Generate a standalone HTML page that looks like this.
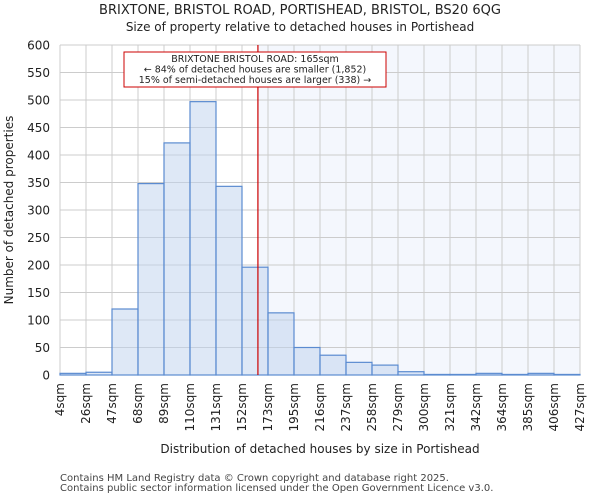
<!DOCTYPE html>
<html><head><meta charset="utf-8"><style>
body{margin:0;background:#fff;font-family:"DejaVu Sans","Liberation Sans",sans-serif;}
</style></head><body>
<svg id="chart" width="600" height="500" xmlns="http://www.w3.org/2000/svg" font-family="DejaVu Sans, Liberation Sans, sans-serif">
<text x="300" y="14" text-anchor="middle" font-size="13" fill="#222">BRIXTONE, BRISTOL ROAD, PORTISHEAD, BRISTOL, BS20 6QG</text>
<text x="300" y="31" text-anchor="middle" font-size="12" fill="#222">Size of property relative to detached houses in Portishead</text>
<g id="plot"></g>
<text x="320" y="453" text-anchor="middle" font-size="12" fill="#222">Distribution of detached houses by size in Portishead</text>
<text transform="translate(13,210) rotate(-90)" text-anchor="middle" font-size="12" fill="#222">Number of detached properties</text>
<text x="60" y="481" font-size="10" fill="#444">Contains HM Land Registry data © Crown copyright and database right 2025.</text>
<text x="60" y="491" font-size="10" fill="#444">Contains public sector information licensed under the Open Government Licence v3.0.</text>
</svg>
<script>
const categories=["4sqm","26sqm","47sqm","68sqm","89sqm","110sqm","131sqm","152sqm","173sqm","195sqm","216sqm","237sqm","258sqm","279sqm","300sqm","321sqm","342sqm","364sqm","385sqm","406sqm","427sqm"];
const counts=[3,5,120,348,422,497,343,196,113,50,36,23,18,6,1,1,3,1,3,1];
const yTicks=[0,50,100,150,200,250,300,350,400,450,500,550,600];
const binStart=4, binWidth=21.15, markerValue=165;
const L=60,R=580,T=45,B=375,yMax=600;
const ns="http://www.w3.org/2000/svg";
const g=document.getElementById('plot');
const xb=i=>L+i*(R-L)/counts.length;
const xv=v=>L+(v-binStart)/binWidth*(R-L)/counts.length;
const y=v=>B-v/yMax*(B-T);
function mk(t,a){const e=document.createElementNS(ns,t);for(const k in a)e.setAttribute(k,a[k]);g.appendChild(e);return e;}
let e;
e=mk('rect',{x:xv(markerValue),y:T,width:R-xv(markerValue),height:B-T,fill:'#f4f7fd'});


yTicks.forEach(v=>{
 e=mk('line',{x1:L,x2:R,y1:y(v),y2:y(v),stroke:'#cccccc','stroke-width':1});
 
 
 e=mk('text',{x:L-10,y:y(v)+4.5,'text-anchor':'end','font-size':12,fill:'#222'});e.textContent=v;
 
 
});
categories.forEach((c,i)=>{
 e=mk('line',{x1:xb(i),x2:xb(i),y1:T,y2:B,stroke:'#cccccc','stroke-width':1});
 
 
 e=mk('text',{transform:`translate(${xb(i)+4},${B+8}) rotate(-90)`,'text-anchor':'end','font-size':12,fill:'#222'});e.textContent=c;
 
 
});
counts.forEach((v,i)=>{
 e=mk('rect',{x:xb(i),y:y(v),width:xb(i+1)-xb(i),height:B-y(v),fill:'rgba(190,210,238,0.5)',stroke:'#5b8bd0','stroke-width':1.2});
 
 
});
e=mk('line',{x1:xv(markerValue),x2:xv(markerValue),y1:T,y2:B,stroke:'#cc0000','stroke-width':1.2});


e=mk('rect',{x:124,y:52,width:262,height:35,fill:'#fff',stroke:'#cc0000','stroke-width':1});


["BRIXTONE BRISTOL ROAD: 165sqm","← 84% of detached houses are smaller (1,852)","15% of semi-detached houses are larger (338) →"].forEach((t,i)=>{
 e=mk('text',{x:255,y:62+i*10.5,'text-anchor':'middle','font-size':9.5,fill:'#222'});e.textContent=t;
 
 
});
</script>
</body></html>
